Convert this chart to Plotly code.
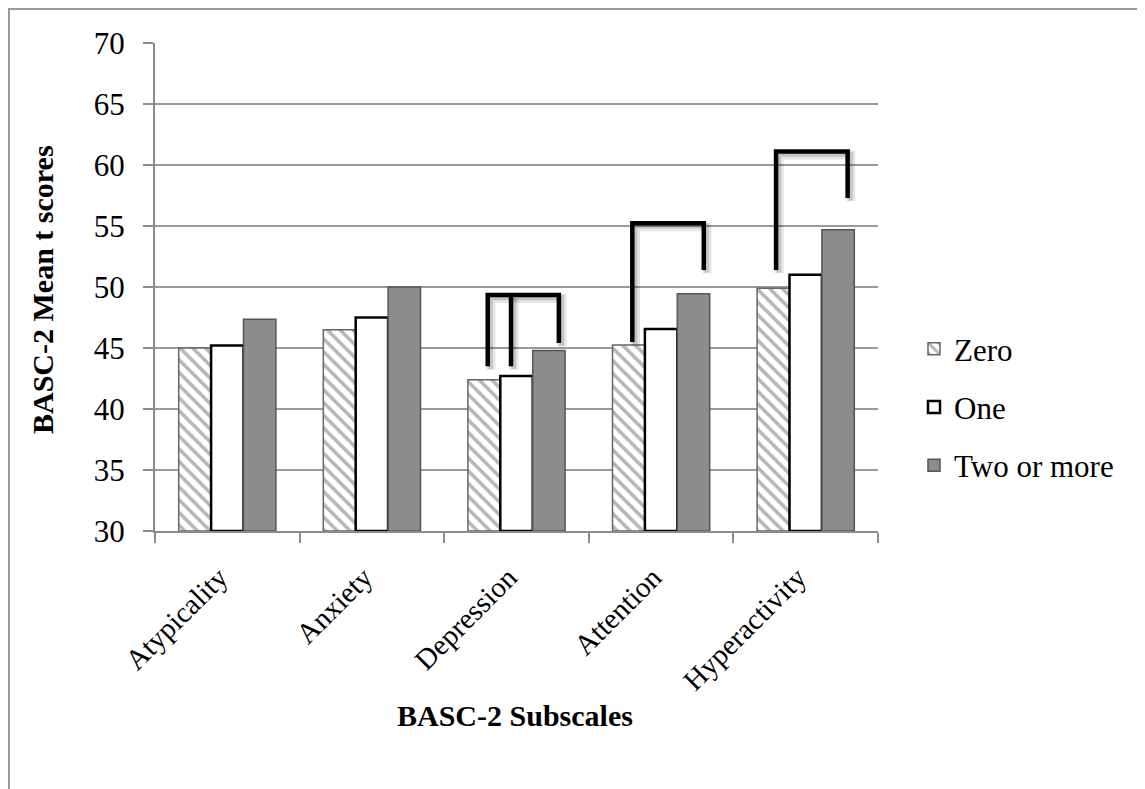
import plotly.graph_objects as go

categories = ["Atypicality", "Anxiety", "Depression", "Attention", "Hyperactivity"]
zero_vals = [45.0, 46.5, 42.4, 45.25, 49.9]
one_vals = [45.2, 47.5, 42.7, 46.55, 51.0]
two_vals = [47.35, 50.0, 44.8, 49.45, 54.7]
y_ticks = [30, 35, 40, 45, 50, 55, 60, 65, 70]

# significance brackets: category index, leg offsets (in category units), leg bottoms, top level
bracket_cat = [2, 3, 4]
bracket_legs = [[-0.199, -0.038, 0.293], [-0.199, 0.295], [-0.205, 0.29]]
bracket_bottoms = [[43.5, 43.5, 45.4], [45.5, 51.4], [51.4, 57.3]]
bracket_tops = [49.34, 55.22, 61.1]

FONT = "Liberation Serif"
xs = list(range(len(categories)))

fig = go.Figure()
fig.add_trace(go.Bar(
    x=xs, y=[v - 30 for v in zero_vals], base=30, name="Zero",
    marker=dict(color="white", line=dict(color="#666666", width=1.5),
                pattern=dict(shape="\\", fgcolor="#6e6e6e", bgcolor="white", size=9, solidity=0.4)),
    legendgroup="a"))
fig.add_trace(go.Bar(
    x=xs, y=[v - 30 for v in one_vals], base=30, name="One",
    marker=dict(color="white", line=dict(color="black", width=2.5)),
    legendgroup="b"))
fig.add_trace(go.Bar(
    x=xs, y=[v - 30 for v in two_vals], base=30, name="Two or more",
    marker=dict(color="#8c8c8c", line=dict(color="#555555", width=1.5)),
    legendgroup="c"))

def add_bracket(cat, legs, bottoms, top, color, width, dx=0.0, dy=0.0):
    px = [cat + legs[0] + dx, cat + legs[0] + dx, cat + legs[-1] + dx, cat + legs[-1] + dx]
    py = [bottoms[0] - dy, top - dy, top - dy, bottoms[-1] - dy]
    fig.add_trace(go.Scatter(x=px, y=py, mode="lines", line=dict(color=color, width=width),
                             showlegend=False, hoverinfo="skip"))
    for lg, bt in zip(legs[1:-1], bottoms[1:-1]):
        fig.add_trace(go.Scatter(x=[cat + lg + dx, cat + lg + dx], y=[bt - dy, top - dy], mode="lines",
                                 line=dict(color=color, width=width), showlegend=False, hoverinfo="skip"))

for c, lg, bt, tp in zip(bracket_cat, bracket_legs, bracket_bottoms, bracket_tops):
    add_bracket(c, lg, bt, tp, "rgba(0,0,0,0.10)", 9, dx=0.022, dy=0.28)
for c, lg, bt, tp in zip(bracket_cat, bracket_legs, bracket_bottoms, bracket_tops):
    add_bracket(c, lg, bt, tp, "rgba(0,0,0,0.15)", 5, dx=0.018, dy=0.22)
for c, lg, bt, tp in zip(bracket_cat, bracket_legs, bracket_bottoms, bracket_tops):
    add_bracket(c, lg, bt, tp, "black", 4.5)

OFF = 8  # page offset of the plot div
W, H = 1145 - OFF, 789 - OFF
L, R, T, B = 155 - OFF, 878 - OFF, 43 - OFF, 531 - OFF
PW, PH = R - L, B - T

def px_x(x):
    return (x - OFF - L) / PW

def px_y(y):
    return (B - (y - OFF)) / PH

fig.update_layout(
    width=W, height=H,
    margin=dict(l=L, r=W - R, t=T, b=H - B, autoexpand=False),
    paper_bgcolor="white", plot_bgcolor="white",
    barmode="group", bargap=0.328, bargroupgap=0,
    font=dict(family=FONT, color="black", size=29),
    legend=dict(x=px_x(914), y=px_y(407), xanchor="left", yanchor="middle",
                font=dict(family=FONT, size=31), tracegroupgap=15,
                traceorder="grouped", bgcolor="rgba(0,0,0,0)"),
    xaxis=dict(range=[-0.5, 4.5], tickvals=xs, ticktext=categories, tickangle=-45,
               ticks="", showgrid=False, zeroline=False, showline=True,
               linecolor="#8c8c8c", linewidth=2, tickfont=dict(family=FONT, size=29),
               ticklabelstandoff=16, ticklabelshift=-8,
               minor=dict(tickvals=[-0.5, 0.5, 1.5, 2.5, 3.5, 4.5], ticks="outside",
                          ticklen=10, tickwidth=2, tickcolor="#8c8c8c", showgrid=False)),
    yaxis=dict(range=[30, 70], tickvals=y_ticks, ticks="outside", ticklen=10, tickwidth=2,
               tickcolor="#8c8c8c", showgrid=True, gridcolor="#9a9a9a", gridwidth=2,
               zeroline=False, showline=True, linecolor="#8c8c8c", linewidth=2,
               ticklabelstandoff=12, tickfont=dict(family=FONT, size=31)),
    shapes=[
        dict(type="line", xref="paper", yref="paper", x0=px_x(8), x1=px_x(1145),
             y0=px_y(8.5), y1=px_y(8.5), line=dict(color="#999999", width=3)),
        dict(type="line", xref="paper", yref="paper", x0=px_x(8.5), x1=px_x(8.5),
             y0=px_y(8), y1=px_y(800), line=dict(color="#999999", width=3)),
    ],
    annotations=[
        dict(text="<b>BASC-2 Subscales</b>", xref="paper", yref="paper",
             x=px_x(515), y=px_y(715), showarrow=False,
             xanchor="center", yanchor="middle", font=dict(family=FONT, size=30)),
        dict(text="<b>BASC-2 Mean t scores</b>", xref="paper", yref="paper",
             x=px_x(42), y=px_y(290), showarrow=False, textangle=-90,
             xanchor="center", yanchor="middle", font=dict(family=FONT, size=30)),
    ],
)

fig.write_html("out.html")
